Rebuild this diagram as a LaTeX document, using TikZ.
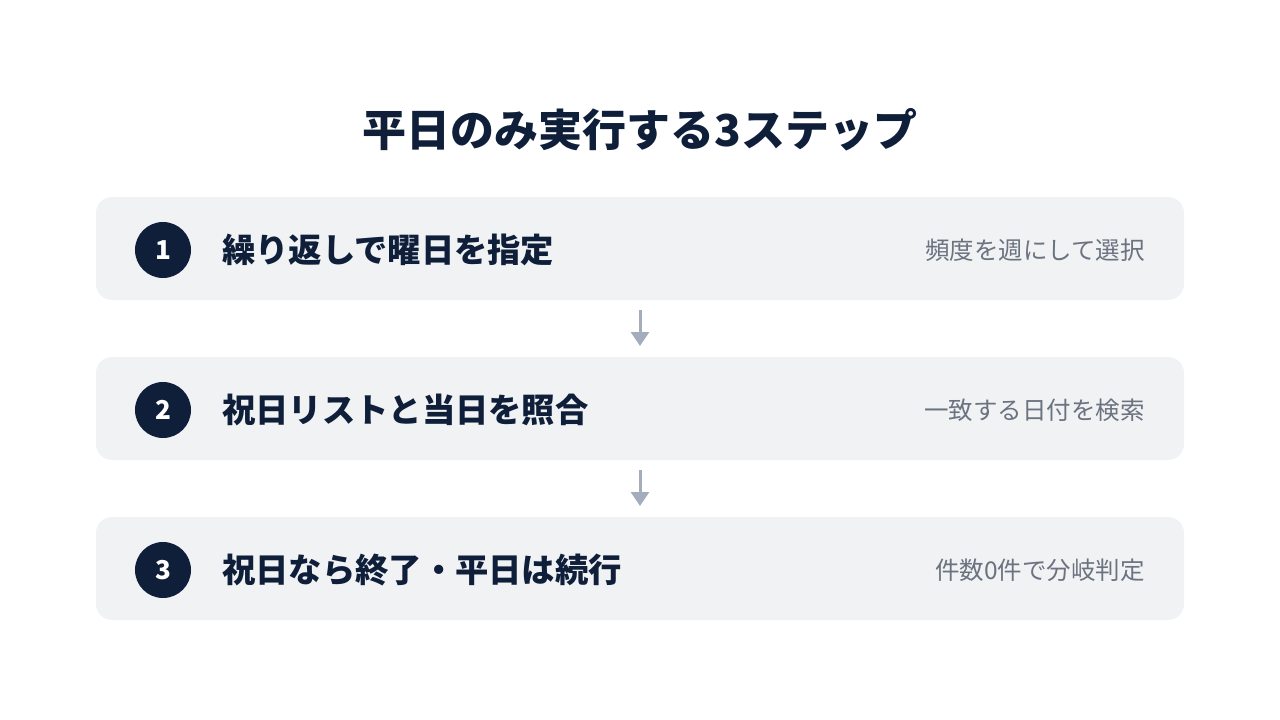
\documentclass[tikz,border=0pt]{standalone}
\usepackage{fontspec}
\setmainfont{Noto Sans CJK JP}
\usetikzlibrary{arrows.meta}

\definecolor{navy}{HTML}{0F1F3A}
\definecolor{boxgray}{HTML}{F1F2F4}
\definecolor{notegray}{HTML}{6B7280}
\definecolor{arrowgray}{HTML}{A3ADBB}

\tikzset{
  stepbox/.style={fill=boxgray, draw=none, rounded corners=16pt},
  numdot/.style={circle, fill=navy, minimum size=56pt, inner sep=0pt, text=white, font=\fontsize{26}{30}\selectfont\bfseries},
  steplabel/.style={anchor=west, inner sep=0pt, text=navy, font=\fontsize{33.3}{40}\selectfont\bfseries},
  stepnote/.style={anchor=east, inner sep=0pt, text=notegray, font=\fontsize{24.5}{30}\selectfont},
  flow/.style={draw=arrowgray, line width=3pt, -{Triangle[length=14pt,width=18pt]}}
}

\begin{document}
\begin{tikzpicture}[x=1pt,y=-1pt]
    \useasboundingbox (0,0) rectangle (1280,720);

    \node[text=navy, font=\fontsize{44}{52}\selectfont\bfseries] (title) at (640,130) {平日のみ実行する3ステップ};

    % step 1
    \fill[stepbox] (96,197) rectangle (1184,300);
    \coordinate (b1top) at (640,197);
    \coordinate (b1bot) at (640,300);
    \node[numdot] (num1) at (163,250) {1};
    \node[steplabel] (lbl1) at (222,250) {繰り返しで曜日を指定};
    \node[stepnote] (note1) at (1145,250) {頻度を週にして選択};

    % step 2
    \fill[stepbox] (96,357) rectangle (1184,460);
    \coordinate (b2top) at (640,357);
    \coordinate (b2bot) at (640,460);
    \node[numdot] (num2) at (163,410) {2};
    \node[steplabel] (lbl2) at (222,410) {祝日リストと当日を照合};
    \node[stepnote] (note2) at (1145,410) {一致する日付を検索};

    % step 3
    \fill[stepbox] (96,517) rectangle (1184,620);
    \coordinate (b3top) at (640,517);
    \node[numdot] (num3) at (163,570) {3};
    \node[steplabel] (lbl3) at (222,570) {祝日なら終了・平日は続行};
    \node[stepnote] (note3) at (1145,570) {件数0件で分岐判定};

    % arrows
    \draw[flow, shorten <=10pt, shorten >=11pt] (b1bot) -- (b2top);
    \draw[flow, shorten <=10pt, shorten >=11pt] (b2bot) -- (b3top);
\end{tikzpicture}
\end{document}
